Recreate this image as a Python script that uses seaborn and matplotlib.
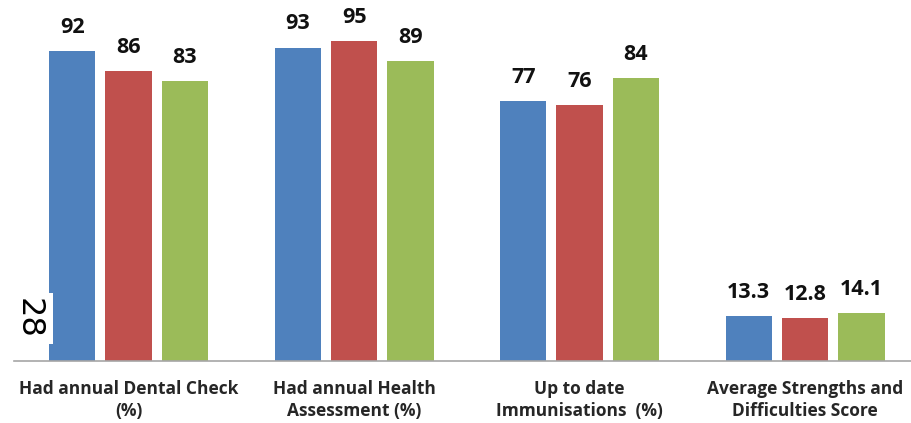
import matplotlib
matplotlib.use("Agg")
import matplotlib.pyplot as plt
import matplotlib.patches as mpatches
import seaborn as sns
import pandas as pd

# Indicator categories (x axis) and the three compared series
categories = [
    "Had annual Dental Check\n(%)",
    "Had annual Health\nAssessment (%)",
    "Up to date\nImmunisations  (%)",
    "Average Strengths and\nDifficulties Score",
]
series_names = ["Series A", "Series B", "Series C"]
series_a = [92, 93, 77, 13.3]
series_b = [86, 95, 76, 12.8]
series_c = [83, 89, 84, 14.1]
colors = ["#4F81BD", "#C0504D", "#9BBB59"]
page_number = "28"

rows = []
for name, vals in zip(series_names, [series_a, series_b, series_c]):
    for cat, v in zip(categories, vals):
        rows.append({"category": cat, "series": name, "value": v})
df = pd.DataFrame(rows)

sns.set_style("white")
plt.rcParams["font.family"] = ["Open Sans", "DejaVu Sans"]

fig = plt.figure(figsize=(9.12, 4.23), dpi=100)
ax = fig.add_axes([0.0, 62 / 423, 1.0, 361 / 423])

sns.barplot(
    data=df, x="category", y="value", hue="series",
    order=categories, hue_order=series_names, palette=colors, saturation=1,
    width=0.75, gap=0.18, linewidth=0, errorbar=None, legend=False, ax=ax,
)

for cont in ax.containers:
    ax.bar_label(cont, labels=[f"{v:g}" for v in cont.datavalues],
                 padding=9.5, fontsize=15.5, fontweight="bold", color="#111111")

x_left, x_right = -0.570, 3.474
ax.set_xlim(x_left, x_right)
ax.set_ylim(0, 107.1)
ax.set_xlabel("")
ax.set_ylabel("")
ax.set_yticks([])
ax.tick_params(axis="x", length=0, pad=14)
for lbl in ax.get_xticklabels():
    lbl.set_fontweight("bold")
    lbl.set_fontsize(12.5)
    lbl.set_linespacing(1.22)
for side in ["top", "right", "left"]:
    ax.spines[side].set_visible(False)
ax.spines["bottom"].set_color("#A6A6A6")
ax.spines["bottom"].set_linewidth(1.2)
ax.spines["bottom"].set_bounds(-0.508, x_right)

# page number panel on the left edge
fig.add_artist(mpatches.Rectangle((0, 1 - 344 / 423), 53 / 912, 51 / 423,
                                  transform=fig.transFigure, facecolor="white",
                                  edgecolor="none", zorder=9))
fig.text(28 / 912, 1 - 318 / 423, page_number, rotation=270, fontsize=23,
         fontfamily=["DejaVu Sans"],
         ha="center", va="center", color="black", zorder=10)

fig.savefig("out.png", dpi=100)
